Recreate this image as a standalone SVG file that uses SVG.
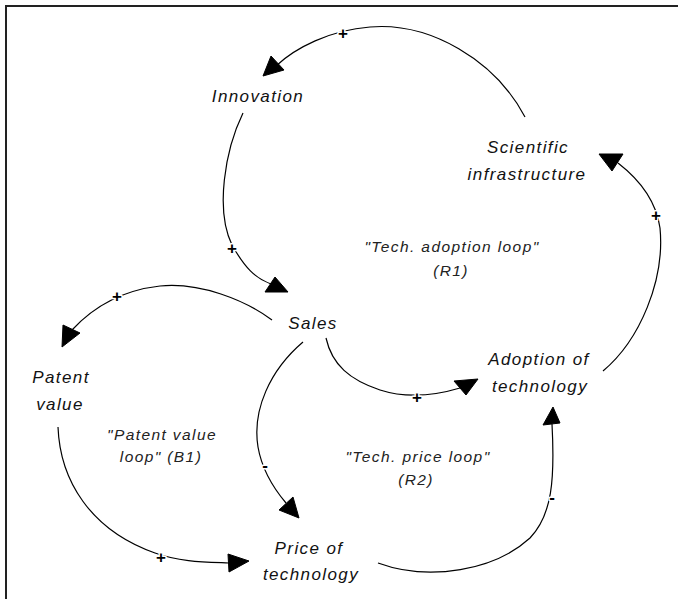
<svg xmlns="http://www.w3.org/2000/svg" width="678" height="599" viewBox="0 0 678 599">
<style>
.bg{fill:#ffffff}
.frame{fill:none;stroke:#222;stroke-width:2}
.node{font-family:"Liberation Sans",Arial,sans-serif;font-style:italic;font-size:17px;letter-spacing:1.4px;fill:#111;text-anchor:middle}
.loop{font-family:"Liberation Sans",Arial,sans-serif;font-style:italic;font-size:15.5px;letter-spacing:1.4px;fill:#222;text-anchor:middle}
.link{fill:none;stroke:#000;stroke-width:1.2}
.ah{fill:#000;stroke:#000;stroke-width:1;stroke-linejoin:miter}
.pol{font-family:"Liberation Sans",Arial,sans-serif;font-size:17px;font-weight:bold;fill:#000;text-anchor:middle;stroke:#fff;stroke-width:3px;paint-order:stroke;stroke-linejoin:round}
</style>
<rect class="bg" x="0" y="0" width="678" height="599"/>
<path class="frame" d="M6,600 V6 H679"/>
<g id="connectors">
  <g id="sci-innov">
    <path class="link" d="M525,117 C495,60 430,22 370,27 C330,30 295,48 276,66"/>
    <polygon class="ah" points="263,76 271,56 284,70"/>
    <text class="pol" x="343" y="39">+</text>
  </g>
  <g id="innov-sales">
    <path class="link" d="M243,113 C225,150 215,210 232,245 C245,268 255,278 271,284"/>
    <polygon class="ah" points="265,292 275,277 288,292"/>
    <text class="pol" x="232" y="254">+</text>
  </g>
  <g id="sales-patent">
    <path class="link" d="M272,320 C245,300 200,282 160,286 C125,290 95,305 72,330"/>
    <polygon class="ah" points="63,325 80,333 62,347"/>
    <text class="pol" x="117" y="302">+</text>
  </g>
  <g id="sales-adoption">
    <path class="link" d="M326,338 C332,365 350,380 380,390 C405,398 430,397 460,388"/>
    <polygon class="ah" points="454,381 478,379 466,395"/>
    <text class="pol" x="417" y="403">+</text>
  </g>
  <g id="sales-price">
    <path class="link" d="M303,342 C270,370 252,410 258,447 C262,470 275,490 286,503"/>
    <polygon class="ah" points="279,510 293,497 299,518"/>
    <text class="pol" x="265" y="471">-</text>
  </g>
  <g id="patent-price">
    <path class="link" d="M58,427 C60,480 90,530 155,553 C180,562 205,562 229,563"/>
    <polygon class="ah" points="228,554 249,561 229,572"/>
    <text class="pol" x="161" y="563">+</text>
  </g>
  <g id="price-adoption">
    <path class="link" d="M378,563 C430,582 495,570 530,538 C552,515 555,480 552,424"/>
    <polygon class="ah" points="543,425 553,407 560,423"/>
    <text class="pol" x="552" y="503">-</text>
  </g>
  <g id="adoption-sci">
    <path class="link" d="M603,371 C640,340 665,280 660,228 C656,200 640,180 618,163"/>
    <polygon class="ah" points="599,154 623,154 612,171"/>
    <text class="pol" x="656" y="221">+</text>
  </g>
</g>
<g id="innovation"><text class="node" x="258" y="102">Innovation</text></g>
<g id="scientific-infrastructure">
  <text class="node" x="528" y="153">Scientific</text>
  <text class="node" x="527" y="180">infrastructure</text>
</g>
<g id="sales"><text class="node" x="313" y="329">Sales</text></g>
<g id="patent-value">
  <text class="node" x="61" y="383">Patent</text>
  <text class="node" x="60" y="410">value</text>
</g>
<g id="adoption-of-technology">
  <text class="node" x="539" y="365">Adoption of</text>
  <text class="node" x="540" y="392">technology</text>
</g>
<g id="price-of-technology">
  <text class="node" x="309" y="554">Price of</text>
  <text class="node" x="311" y="580">technology</text>
</g>
<g id="loop-r1">
  <text class="loop" x="452" y="252">"Tech. adoption loop"</text>
  <text class="loop" x="451" y="276">(R1)</text>
</g>
<g id="loop-b1">
  <text class="loop" x="162" y="440">"Patent value</text>
  <text class="loop" x="161" y="462">loop" (B1)</text>
</g>
<g id="loop-r2">
  <text class="loop" x="418" y="462">"Tech. price loop"</text>
  <text class="loop" x="416" y="485">(R2)</text>
</g>
</svg>
